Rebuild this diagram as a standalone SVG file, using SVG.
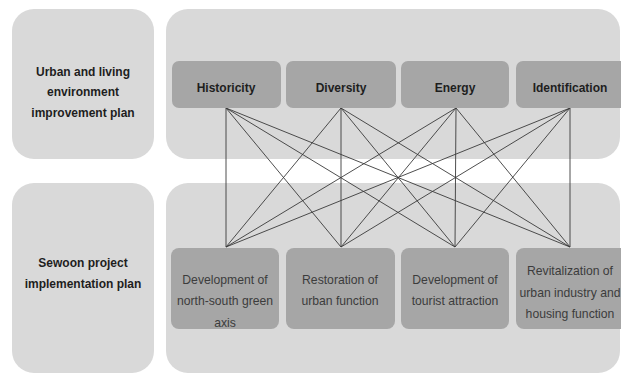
<svg xmlns="http://www.w3.org/2000/svg" width="621" height="374" viewBox="0 0 621 374">
<style>
.panel{fill:#d9d9d9;}
.box{fill:#a6a6a6;}
.hd{font-family:"Liberation Sans",Arial,sans-serif;font-size:12px;font-weight:bold;fill:#1e1e1e;text-anchor:middle;}
.bt{font-family:"Liberation Sans",Arial,sans-serif;font-size:12.2px;fill:#3c3c3c;text-anchor:middle;}
.ln{stroke:#3a3a3a;stroke-width:0.9;fill:none;}
</style>
<rect width="621" height="374" fill="#ffffff"/>
<g id="panel-top-left">
<rect class="panel" x="12" y="9" width="142" height="150" rx="22"/>
<text class="hd" x="83" y="76">Urban and living</text>
<text class="hd" x="83" y="96">environment</text>
<text class="hd" x="83" y="117">improvement plan</text>
</g>
<g id="panel-top-right"><rect class="panel" x="166" y="9" width="454" height="150" rx="22"/></g>
<g id="panel-bottom-left">
<rect class="panel" x="12" y="183" width="142" height="190" rx="22"/>
<text class="hd" x="83" y="267">Sewoon project</text>
<text class="hd" x="83" y="288">implementation plan</text>
</g>
<g id="panel-bottom-right"><rect class="panel" x="166" y="183" width="454" height="190" rx="22"/></g>
<g id="connectors">
<path class="ln" d="M226,108L226,247M226,108L341,247M226,108L455,247M226,108L570,247"/>
<path class="ln" d="M341,108L226,247M341,108L341,247M341,108L455,247M341,108L570,247"/>
<path class="ln" d="M456,108L226,247M456,108L341,247M456,108L455,247M456,108L570,247"/>
<path class="ln" d="M570,108L226,247M570,108L341,247M570,108L455,247M570,108L570,247"/>
</g>
<g id="historicity"><rect class="box" x="172" y="61" width="109" height="47" rx="7"/><text class="hd" x="226" y="92">Historicity</text></g>
<g id="diversity"><rect class="box" x="286" y="61" width="110" height="47" rx="7"/><text class="hd" x="341" y="92">Diversity</text></g>
<g id="energy"><rect class="box" x="401" y="61" width="108" height="47" rx="7"/><text class="hd" x="455" y="92">Energy</text></g>
<g id="identification"><rect class="box" x="516" y="61" width="112" height="47" rx="7"/><text class="hd" x="570" y="92">Identification</text></g>
<g id="green-axis"><rect class="box" x="171" y="248" width="108" height="81" rx="8"/>
<text class="bt" x="225" y="284">Development of</text>
<text class="bt" x="225" y="305">north-south green</text>
<text class="bt" x="225" y="327">axis</text></g>
<g id="urban-function"><rect class="box" x="286" y="248" width="109" height="81" rx="8"/>
<text class="bt" x="340" y="284">Restoration of</text>
<text class="bt" x="340" y="305">urban function</text></g>
<g id="tourist"><rect class="box" x="401" y="248" width="108" height="81" rx="8"/>
<text class="bt" x="455" y="284">Development of</text>
<text class="bt" x="455" y="305">tourist attraction</text></g>
<g id="revitalization"><rect class="box" x="516" y="248" width="112" height="81" rx="8"/>
<text class="bt" x="570" y="275">Revitalization of</text>
<text class="bt" x="570" y="297">urban industry and</text>
<text class="bt" x="570" y="318">housing function</text></g>
</svg>
